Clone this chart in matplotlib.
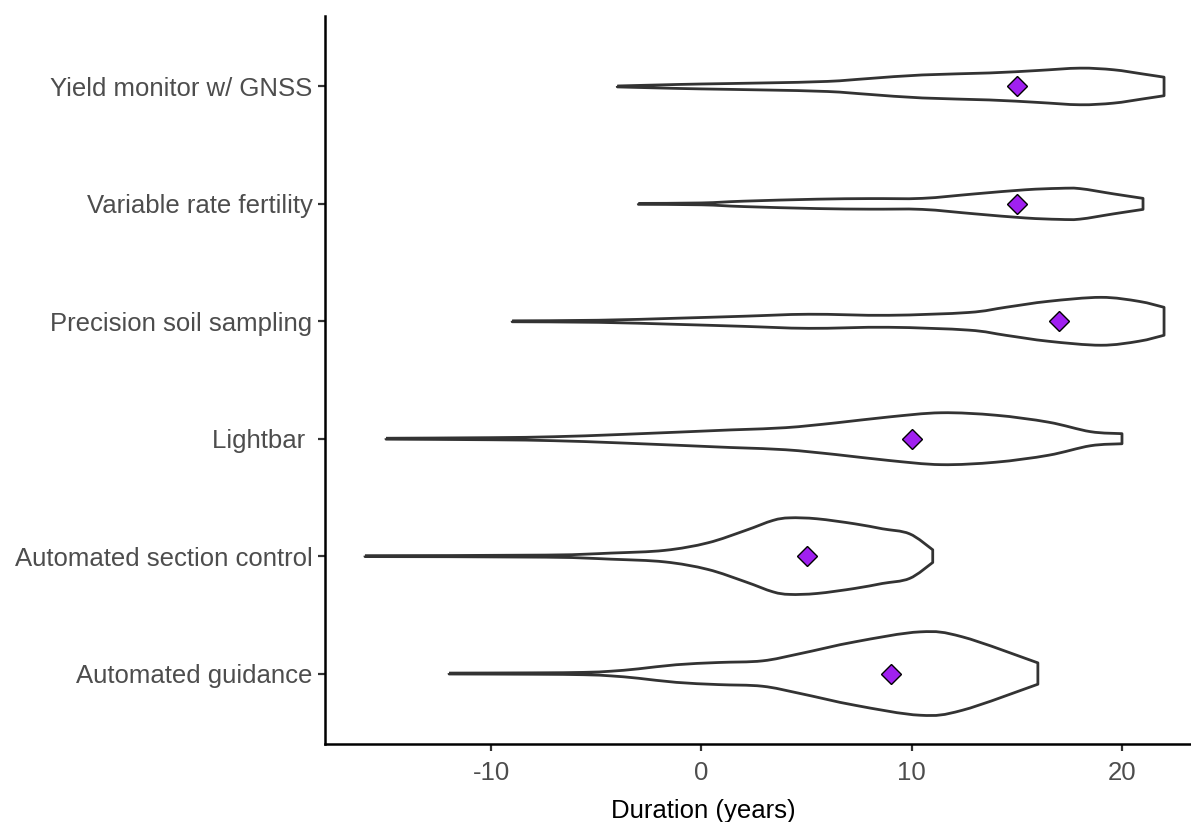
import numpy as np
import matplotlib
matplotlib.use("Agg")
import matplotlib.pyplot as plt
from matplotlib.path import Path
from matplotlib.patches import PathPatch

plt.rcParams['font.family'] = ['Liberation Sans', 'DejaVu Sans']
plt.rcParams['axes.unicode_minus'] = False

# categories, bottom to top
categories = ["Automated guidance", "Automated section control", "Lightbar ",
              "Precision soil sampling", "Variable rate fertility", "Yield monitor w/ GNSS"]

# violin outlines: positions (years) and half-width
# (in hundredths of a category slot)
guidance_x = [-12, -8, -5.6, -4.3, -3, -1.2, 0.8, 2.9, 4.7, 7.3, 10.4, 12.4, 16]
guidance_w = [0.4, 0.6, 1.0, 2.0, 4.0, 7.5, 9.4, 10.8, 17.0, 27.0, 35.5, 31.3, 9.1]

section_x = [-16, -7.4, -4.3, -1.75, 0.3, 2.1, 3.4, 4.2, 5.5, 7.3, 8.6, 9.9, 11]
section_w = [0.4, 0.9, 2.6, 4.9, 11.3, 21.9, 30.4, 32.6, 31.8, 27.5, 23.3, 19.0, 5.4]

lightbar_x = [-15, -10, -7, -3.7, 1.4, 4, 6.4, 8.9, 11.4, 14, 16.5, 18.5, 20]
lightbar_w = [0.4, 0.9, 1.7, 3.7, 7.5, 9.4, 13.5, 18.5, 22.1, 20.0, 14.1, 6.0, 4.3]

precision_x = [-9, -4.9, -1.2, 2, 5.1, 8.9, 12.7, 14.5, 16.5, 19.0, 20.8, 22]
precision_w = [0.4, 0.9, 2.6, 4.3, 6.0, 5.1, 7.5, 12.0, 17.0, 20.4, 17.0, 11.9]

variable_x = [-3, 0, 2, 5.5, 8, 10.5, 13, 15.4, 17, 18, 19.6, 21]
variable_w = [0.4, 0.8, 2.3, 4.0, 4.5, 4.7, 8.5, 12.0, 13.2, 13.0, 8.5, 4.7]

yield_x = [-4, -2, 0, 3, 6, 8, 10.5, 13.7, 16, 18, 19.6, 21, 22]
yield_w = [0.4, 1.3, 2.1, 3.0, 4.3, 6.8, 9.8, 11.5, 13.6, 15.6, 14.2, 10.6, 7.9]

violin_x = [guidance_x, section_x, lightbar_x, precision_x, variable_x, yield_x]
violin_w = [guidance_w, section_w, lightbar_w, precision_w, variable_w, yield_w]

# mean duration (diamonds)
means = [9, 5, 10, 17, 15, 15]


def smooth_segments(pts):
    # Catmull-Rom through the points, as cubic bezier pieces
    pts = np.asarray(pts, float)
    ext = np.vstack([pts[0], pts, pts[-1]])
    verts, codes = [], []
    for i in range(1, len(ext) - 2):
        p0, p1, p2, p3 = ext[i - 1], ext[i], ext[i + 1], ext[i + 2]
        c1 = p1 + (p2 - p0) / 6.0
        c2 = p2 - (p3 - p1) / 6.0
        verts += [c1, c2, p2]
        codes += [Path.CURVE4] * 3
    return verts, codes


fig = plt.figure(figsize=(11.91, 8.22), dpi=100)
ax = fig.add_axes([325 / 1191, 78 / 822, 879 / 1191, 728 / 822])

for i, (xs, ws) in enumerate(zip(violin_x, violin_w)):
    y = i + 1
    hw = np.array(ws) / 100.0
    upper = np.column_stack([xs, y + hw])
    lower = np.column_stack([xs, y - hw])[::-1]
    verts = [upper[0]]
    codes = [Path.MOVETO]
    v, c = smooth_segments(upper)
    verts += v
    codes += c
    verts.append(lower[0])
    codes.append(Path.LINETO)
    v, c = smooth_segments(lower)
    verts += v
    codes += c
    verts.append(upper[0])
    codes.append(Path.LINETO)
    ax.add_patch(PathPatch(Path(verts, codes), facecolor="white",
                           edgecolor="#333333", lw=2.0, joinstyle="round", zorder=2))

ax.plot(means, np.arange(1, len(categories) + 1), linestyle="none", marker="D",
        markersize=10, markerfacecolor="#A020F0", markeredgecolor="black",
        markeredgewidth=1.0, zorder=3)

ax.set_xlim(-17.9, 23.9)
ax.set_ylim(0.4, 6.6)
ax.set_xticks([-10, 0, 10, 20])
ax.set_yticks(np.arange(1, len(categories) + 1))
ax.set_yticklabels(categories)

for side in ["top", "right"]:
    ax.spines[side].set_visible(False)
for side in ["left", "bottom"]:
    ax.spines[side].set_linewidth(1.8)
    ax.spines[side].set_color("black")

ax.tick_params(axis="both", length=5, width=1.6, color="#333333",
               labelcolor="#4D4D4D", labelsize=18.5, pad=4)
ax.tick_params(axis="x", pad=7)

ax.set_xlabel("Duration (years)", fontsize=18.5, color="black")
ax.xaxis.set_label_coords((703 - 325) / 879, -0.075)

fig.savefig("out.png", dpi=100)
